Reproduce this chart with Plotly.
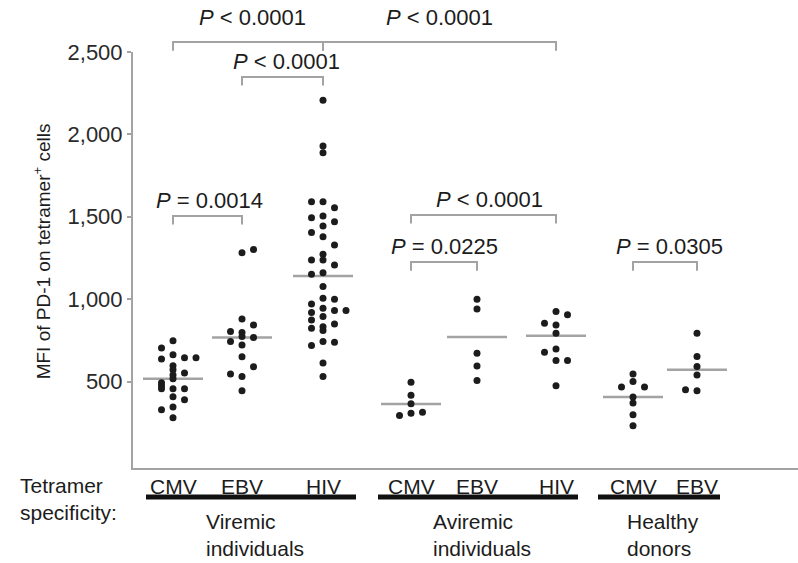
import plotly.graph_objects as go

# ---------------- data ----------------
tetramers = ["CMV", "EBV", "HIV", "CMV", "EBV", "HIV", "CMV", "EBV"]
cohorts = ["Viremic<br>individuals", "Aviremic<br>individuals", "Healthy<br>donors"]
cohort_of = [0, 0, 0, 1, 1, 1, 2, 2]

# MFI of PD-1 on tetramer+ cells, one list per cohort / tetramer
viremic_cmv = [747, 704, 662, 644, 644, 637, 595, 571, 552, 540, 516, 492, 474,
               456, 456, 456, 408, 389, 346, 328, 280]
viremic_ebv = [1301, 1281, 880, 843, 803, 798, 773, 767, 743, 722, 650, 589, 546,
               530, 444]
viremic_hiv = [2207, 1930, 1889, 1591, 1591, 1554, 1504, 1494, 1470, 1444, 1404,
               1379, 1328, 1272, 1238, 1238, 1207, 1160, 1151, 1076, 1005, 999,
               971, 945, 931, 931, 919, 894, 874, 849, 833, 823, 809, 743, 739,
               718, 612, 530]
aviremic_cmv = [496, 416, 365, 314, 308, 294]
aviremic_ebv = [1000, 940, 672, 594, 506]
aviremic_hiv = [925, 905, 854, 843, 793, 698, 678, 628, 628, 474]
healthy_cmv = [546, 500, 466, 466, 406, 369, 298, 231]
healthy_ebv = [793, 652, 591, 540, 450, 444]

group_values = [viremic_cmv, viremic_ebv, viremic_hiv, aviremic_cmv,
                aviremic_ebv, aviremic_hiv, healthy_cmv, healthy_ebv]
group_means = [516, 767, 1141, 363, 770, 777, 406, 571]

# pairwise comparisons: (group a, group b, label, bracket level in MFI units)
comparisons = [
    (0, 2, "<i>P</i> < 0.0001", 2560),
    (2, 5, "<i>P</i> < 0.0001", 2560),
    (1, 2, "<i>P</i> < 0.0001", 2348),
    (0, 1, "<i>P</i> = 0.0014", 1505),
    (3, 5, "<i>P</i> < 0.0001", 1511),
    (3, 4, "<i>P</i> = 0.0225", 1225),
    (6, 7, "<i>P</i> = 0.0305", 1225),
]

y_ticks = [500, 1000, 1500, 2000, 2500]

# ---------------- layout helpers ----------------
# horizontal axis runs in pixel-like units across the plotting area
X_SPAN = 665
Y_MIN, Y_MAX = -25, 2500
x_centers = [40, 109, 190, 278, 344, 423, 500, 564]
col_step = 11.5
# beeswarm column of each dot (offset in columns from group centre)
group_cols = [
    [0, -1, 0, 1, 2, -1, 0, 0, 1, 0, 0, -1, -1, -1, 0, 1, 0, 1, 0, -1, 0],
    [1, 0, 0, 1, -1, 0, 0, 1, -1, 0, 0, 1, -1, 0, 0],
    [0, 0, 0, -1, 0, 1, 0, -1, 1, 0, -1, 0, 1, 0, -1, 0, 1, 0, -1,
     0, 0, 1, -1, 0, 1, 2, -1, 0, -1, 1, 0, -1, 0, 0, 1, -1, 0, 0],
    [0, 0, 0, 1, 0, -1],
    [0, 0, 0, 0, 0],
    [0, 1, -1, 0, 0, 0, -1, 0, 1, 0],
    [0, 0, -1, 1, 0, 0, 0, 0],
    [0, 0, 0, 0, -1, 0],
]
mean_half_width = 30
# extra lift (px) of the label above its bracket, and sideways nudge (px)
label_lift = [9, 9, 0, 0, 0, 0, 0]
label_nudge = [4, 0, 4, 2, 6, 0, 4]
# cohort underline extents relative to first / last tetramer centre
bar_pad = [(27, 33), (33, 22), (35, 23)]

L, R, T, B = 133, 0, 52, 95
W, H = 798, 563
PLOT_H = H - T - B

REG = "Liberation Sans, Arial, sans-serif"
NARROW = "Liberation Sans Narrow, Arial Narrow, Liberation Sans, Arial, sans-serif"
INK = "#1c1c1c"
GREY = "#a3a3a3"


def xp(x):
    return x / X_SPAN


def yp(v):
    return (v - Y_MIN) / (Y_MAX - Y_MIN)


def ypx(px_below_axis):
    return -px_below_axis / PLOT_H


fig = go.Figure()

# mean bars
for c, m in zip(x_centers, group_means):
    fig.add_trace(go.Scatter(
        x=[c - mean_half_width, c + mean_half_width], y=[m, m], mode="lines",
        line=dict(color=GREY, width=2.5), hoverinfo="skip", showlegend=False))

# individual donors
for c, vals, cols in zip(x_centers, group_values, group_cols):
    fig.add_trace(go.Scatter(
        x=[c + k * col_step for k in cols], y=vals, mode="markers",
        marker=dict(size=7, color=INK), cliponaxis=False, showlegend=False))

shapes = []
annotations = []

# significance brackets
leg = 52
for (a, b, label, lvl), lift, nudge in zip(comparisons, label_lift, label_nudge):
    x0, x1 = xp(x_centers[a]), xp(x_centers[b])
    shapes.append(dict(
        type="path", xref="paper", yref="paper",
        path=f"M {x0},{yp(lvl - leg)} L {x0},{yp(lvl)} L {x1},{yp(lvl)} L {x1},{yp(lvl - leg)}",
        line=dict(color=GREY, width=2)))
    annotations.append(dict(
        x=(x0 + x1) / 2, y=yp(lvl), xref="paper", yref="paper", text=label,
        showarrow=False, xanchor="center", yanchor="bottom", yshift=1 + lift,
        xshift=nudge, font=dict(family=REG, size=22, color=INK)))

# tetramer labels under the axis
for c, t in zip(x_centers, tetramers):
    annotations.append(dict(
        x=c, y=ypx(18), xref="x", yref="paper", text=t, showarrow=False,
        xanchor="center", yanchor="middle",
        font=dict(family=NARROW, size=21, color=INK)))

# cohort bars and names
for g, name in enumerate(cohorts):
    members = [i for i, k in enumerate(cohort_of) if k == g]
    left = x_centers[members[0]] - bar_pad[g][0]
    right = x_centers[members[-1]] + bar_pad[g][1]
    shapes.append(dict(type="line", xref="paper", yref="paper",
                       x0=xp(left), x1=xp(right), y0=ypx(29), y1=ypx(29),
                       line=dict(color="#111111", width=5)))
    annotations.append(dict(
        x=(left + right) / 2 + 4, y=ypx(40), xref="x", yref="paper", text=name,
        showarrow=False, xanchor="center", yanchor="top", align="left",
        font=dict(family=NARROW, size=21, color=INK)))

annotations.append(dict(
    x=(18 - L) / X_SPAN, y=ypx(4), xref="paper", yref="paper",
    text="Tetramer<br>specificity:", showarrow=False, xanchor="left",
    yanchor="top", align="left", font=dict(family=NARROW, size=21, color=INK)))

# y-axis title
annotations.append(dict(
    x=(42 - L) / X_SPAN, y=yp(1290), xref="paper", yref="paper",
    text="MFI of PD-1 on tetramer<sup>+</sup> cells", textangle=-90,
    showarrow=False, xanchor="center", yanchor="middle",
    font=dict(family=REG, size=19, color=INK)))

fig.update_layout(
    width=W, height=H, margin=dict(l=L, r=R, t=T, b=B),
    paper_bgcolor="white", plot_bgcolor="white",
    shapes=shapes, annotations=annotations, showlegend=False,
    xaxis=dict(range=[0, X_SPAN], showgrid=False, zeroline=False,
               showticklabels=False, ticks="", showline=True,
               linecolor=GREY, linewidth=2),
    yaxis=dict(range=[Y_MIN, Y_MAX], showgrid=False, zeroline=False,
               tickvals=y_ticks, tickformat=",", ticks="outside", ticklen=4,
               tickcolor=GREY, tickwidth=1.5, showline=True, linecolor=GREY,
               linewidth=2, tickfont=dict(family=REG, size=22, color="#2a2a2a")),
)

fig.write_html("out.html")
